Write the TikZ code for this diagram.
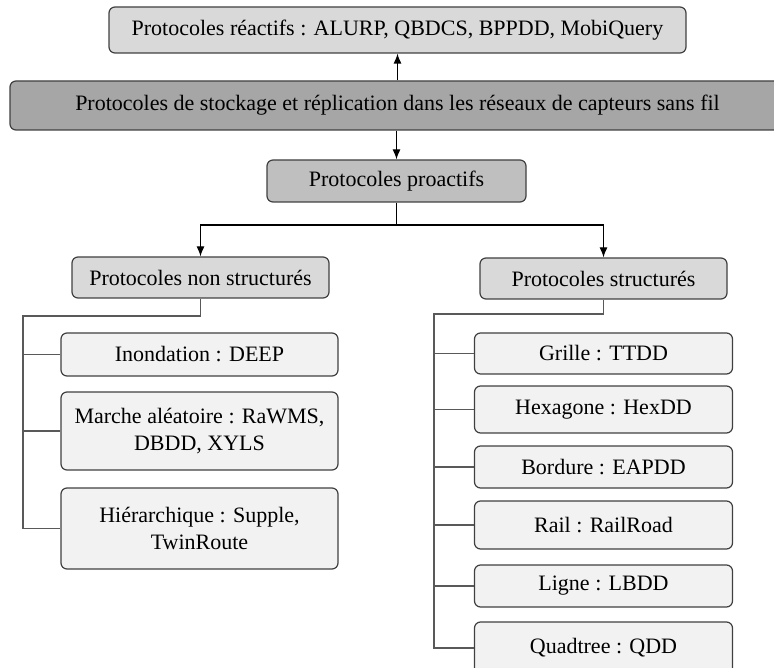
\documentclass[tikz,border=0pt]{standalone}
\usepackage{fontspec}
\setmainfont{LiberationSerif}[Extension=.ttf, UprightFont=*-Regular, BoldFont=*-Bold]
\usetikzlibrary{arrows.meta}

\begin{document}
\begin{tikzpicture}[x=1pt, y=-1pt,
	box/.style={draw=black!75, line width=1.2pt, rounded corners=6pt, align=center, inner sep=0pt, font=\rmfamily\fontsize{22}{27}\selectfont},
	lev0/.style={box, fill=black!35},
	lev1/.style={box, fill=black!25},
	lev2/.style={box, fill=black!15},
	leaf/.style={box, fill=black!5, minimum width=277pt},
	rleaf/.style={box, fill=black!5, minimum width=258pt},
	arr/.style={-{Latex[length=10pt,width=8pt]}, line width=1.2pt},
	tree/.style={draw=black!65, line width=1.5pt}]
	\useasboundingbox (0,0) rectangle (774,668);
	\clip (0,0) rectangle (774,668);
	\node[lev2, minimum width=577pt, minimum height=46pt] (reac) at (397.5,30) {Protocoles réactifs : ALURP, QBDCS, BPPDD, MobiQuery};
	\node[lev0, minimum width=775pt, minimum height=49pt] (main) at (397.5,105.5) {Protocoles de stockage et réplication dans les réseaux de capteurs sans fil};
	\node[lev1, minimum width=259pt, minimum height=42pt] (pro) at (396.5,181) {Protocoles proactifs};
	\node[lev2, minimum width=257pt, minimum height=41pt] (nstruct) at (200.5,277.5) {Protocoles non structurés};
	\node[lev2, minimum width=247pt, minimum height=41pt] (struct) at (603.5,278.5) {Protocoles structurés};
	\node[leaf, minimum height=43pt] (inond) at (199.5,354.5) {Inondation : DEEP};
	\node[leaf, minimum height=78pt] (marche) at (199.5,431) {Marche aléatoire : RaWMS,\\ DBDD, XYLS};
	\node[leaf, minimum height=81pt] (hier) at (199.5,528.5) {Hiérarchique : Supple,\\ TwinRoute};
	\node[rleaf, minimum height=41pt] (grille) at (603.5,353.5) {Grille : TTDD};
	\node[rleaf, minimum height=47pt] (hexa) at (603.5,409.5) {Hexagone : HexDD};
	\node[rleaf, minimum height=42pt] (bord) at (603.5,467) {Bordure : EAPDD};
	\node[rleaf, minimum height=48pt] (rail) at (603.5,525) {Rail : RailRoad};
	\node[rleaf, minimum height=42pt] (ligne) at (603.5,586) {Ligne : LBDD};
	\node[rleaf, minimum height=52pt] (quad) at (603.5,648) {Quadtree : QDD};
	\coordinate (fork) at (396.5,225);
	\coordinate (ltop) at (23,316);
	\coordinate (rtop) at (434,314);
	\draw[arr] (main.north -| reac.south) -- (reac.south);
	\draw[arr] (main.south -| pro.north) -- (pro.north);
	\draw[arr] (pro.south) -- (fork) -| (nstruct.north);
	\draw[arr] (fork) -| (struct.north);
	\draw[tree] (nstruct.south) |- (ltop) |- (hier.west);
	\foreach \n in {inond,marche}
		\draw[tree] (\n.west) -- (\n.west -| ltop);
	\draw[tree] (struct.south) |- (rtop) |- (quad.west);
	\foreach \n in {grille,hexa,bord,rail,ligne}
		\draw[tree] (\n.west) -- (\n.west -| rtop);
\end{tikzpicture}
\end{document}
